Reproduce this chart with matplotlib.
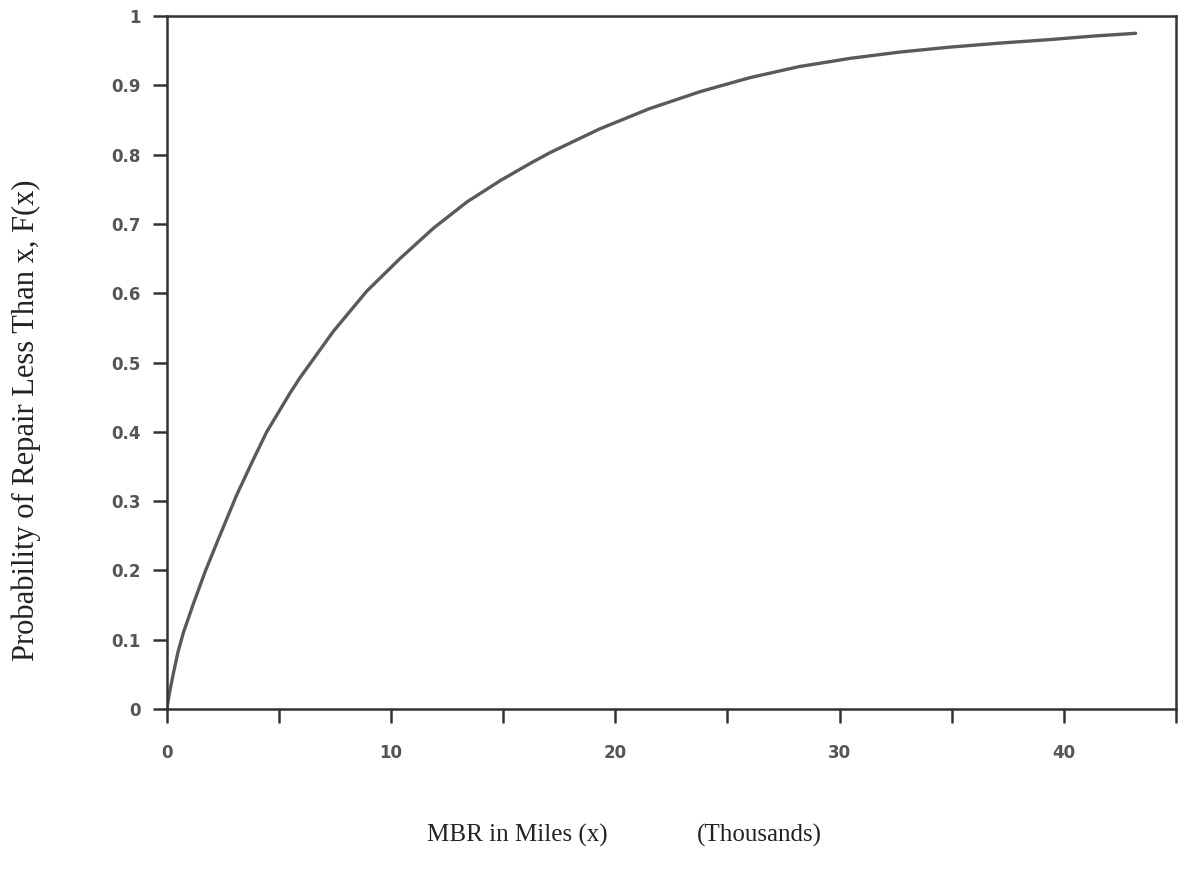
import matplotlib
matplotlib.use("Agg")
import matplotlib.pyplot as plt
from matplotlib.ticker import FixedLocator

# Data (x in thousands of miles)
mbr_thousands = [0, 0.15, 0.30, 0.50, 0.74, 1.19, 1.71, 2.30, 3.12, 3.86, 4.46, 5.50, 5.94,
                 7.43, 8.92, 10.4, 11.9, 13.4, 14.9, 16.3, 17.1, 19.3, 21.5,
                 23.8, 26.0, 28.2, 30.5, 32.7, 34.9, 37.2, 39.4, 41.3, 43.2]
prob_repair = [0, 0.028, 0.052, 0.082, 0.110, 0.152, 0.198, 0.245, 0.309, 0.360, 0.400, 0.456, 0.478,
               0.545, 0.603, 0.650, 0.694, 0.732, 0.763, 0.789, 0.803, 0.837, 0.866,
               0.891, 0.911, 0.927, 0.939, 0.948, 0.955, 0.961, 0.966, 0.971, 0.975]

x_major = [0, 10, 20, 30, 40]
x_minor = [5, 15, 25, 35, 45]
x_labels = ["0", "10", "20", "30", "40"]
y_ticks = [0, 0.1, 0.2, 0.3, 0.4, 0.5, 0.6, 0.7, 0.8, 0.9, 1.0]
y_labels = ["0", "0.1", "0.2", "0.3", "0.4", "0.5", "0.6", "0.7", "0.8", "0.9", "1"]

xlabel_left = "MBR in Miles (x)"
xlabel_right = "(Thousands)"
ylabel_text = "Probability of Repair Less Than x, F(x)"

fig = plt.figure(figsize=(11.8, 8.69), dpi=100)
ax = fig.add_axes([0.1413, 0.1841, 0.9966 - 0.1413, 0.9816 - 0.1841])

ax.plot(mbr_thousands, prob_repair, color="#5a5a5a", lw=2.4,
        solid_capstyle="round", solid_joinstyle="round")

ax.set_xlim(0, 45)
ax.set_ylim(0, 1)

ax.xaxis.set_major_locator(FixedLocator(x_major))
ax.xaxis.set_minor_locator(FixedLocator(x_minor))
ax.set_xticklabels(x_labels)
ax.set_yticks(y_ticks)
ax.set_yticklabels(y_labels)

for sp in ax.spines.values():
    sp.set_color("#333333")
    sp.set_linewidth(1.8)

ax.tick_params(axis="x", which="both", direction="out", length=10, width=1.8,
               color="#333333", pad=15, labelcolor="#555555")
ax.tick_params(axis="y", which="both", direction="out", length=10, width=1.8,
               color="#333333", pad=9, labelcolor="#555555")
for lab in ax.get_xticklabels() + ax.get_yticklabels():
    lab.set_fontfamily("DejaVu Sans")
    lab.set_fontweight("bold")
    lab.set_fontsize(12)

fig.text(427 / 1180, 1 - 835 / 869, xlabel_left, ha="left", va="center",
         family="Liberation Serif", fontsize=18, color="#222222")
fig.text(697 / 1180, 1 - 835 / 869, xlabel_right, ha="left", va="center",
         family="Liberation Serif", fontsize=18, color="#222222")
fig.text(26 / 1180, 1 - 420 / 869, ylabel_text, ha="center", va="center",
         rotation=90, family="Liberation Serif", fontsize=22, color="#222222")

fig.savefig("out.png", dpi=100)
